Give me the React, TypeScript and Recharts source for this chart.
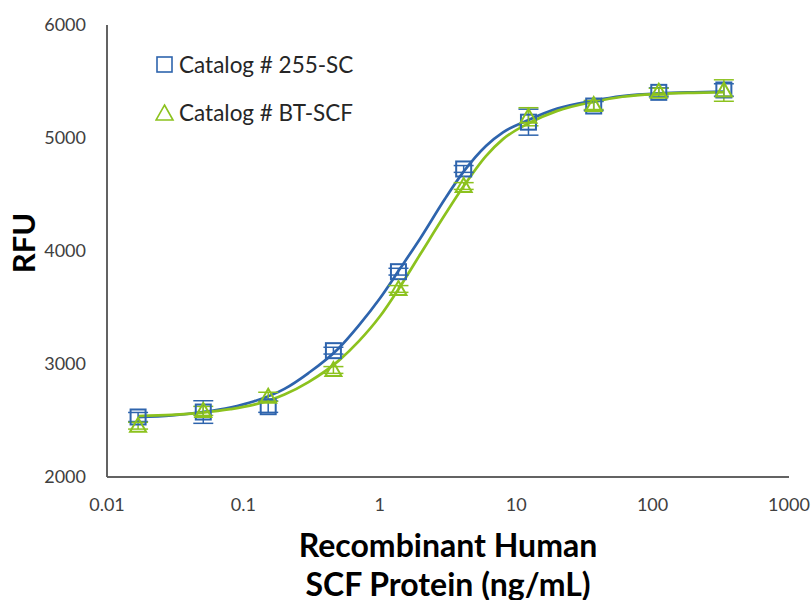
import React from 'react';
import {
    ComposedChart,
    Line,
    Scatter,
    ErrorBar,
    XAxis,
    YAxis,
    ReferenceLine,
} from 'recharts';

// concentrations (ng/mL), 3-fold dilution series
const concentration = [0.0169, 0.0508, 0.152, 0.457, 1.37, 4.12, 12.3, 37, 111, 333];

// measured RFU (mean) and error
const rfu255SC = [2531, 2575, 2622, 3118, 3817, 4726, 5140, 5283, 5404, 5425];
const err255SC = [40, 100, 50, 30, 30, 30, 115, 40, 40, 55];
const rfuBTSCF = [2454, 2585, 2710, 2947, 3664, 4575, 5188, 5292, 5410, 5420];
const errBTSCF = [30, 40, 40, 30, 30, 30, 80, 40, 30, 95];

// fitted curves
const fitX = [0.0169, 0.03, 0.05, 0.08, 0.12, 0.2, 0.3, 0.5, 0.7, 1, 1.4, 2, 3, 4.1, 6, 8, 12.3, 20, 37, 60, 111, 200, 333];
const fit255SC = [2530, 2545, 2575, 2615, 2670, 2780, 2920, 3140, 3340, 3580, 3840, 4120, 4460, 4700, 4930, 5050, 5160, 5260, 5330, 5370, 5395, 5405, 5410];
const fitBTSCF = [2540, 2550, 2570, 2600, 2640, 2730, 2840, 3030, 3200, 3420, 3680, 3980, 4320, 4570, 4840, 4990, 5130, 5240, 5320, 5365, 5390, 5400, 5405];

const xTicks = [0.01, 0.1, 1, 10, 100, 1000];
const yTicks = [2000, 3000, 4000, 5000, 6000];

const BLUE = '#2E64AD';
const GREEN = '#8CC21E';
const AXIS = '#595959';
const FONT = 'Lato, "Open Sans", sans-serif';

const points255 = concentration.map((x, i) => ({ x, y: rfu255SC[i], err: err255SC[i] }));
const pointsBT = concentration.map((x, i) => ({ x, y: rfuBTSCF[i], err: errBTSCF[i] }));
const curve255 = fitX.map((x, i) => ({ x, y: fit255SC[i] }));
const curveBT = fitX.map((x, i) => ({ x, y: fitBTSCF[i] }));

const Square = (props: any) => {
    const { cx, cy } = props;
    if (cx == null || cy == null) return null;
    return <rect x={cx - 7.5} y={cy - 7.5} width={15} height={15} fill="none" stroke={BLUE} strokeWidth={2} />;
};

const Triangle = (props: any) => {
    const { cx, cy } = props;
    if (cx == null || cy == null) return null;
    return (
        <polygon
            points={`${cx},${cy - 8} ${cx + 8},${cy + 6} ${cx - 8},${cy + 6}`}
            fill="none"
            stroke={GREEN}
            strokeWidth={2}
        />
    );
};

const fmtX = (v: number) => String(v);

const LegendBox = () => (
    <svg width={300} height={90} style={{ position: 'absolute', left: 155, top: 53 }}>
        <rect x={2} y={4} width={15} height={15} fill="none" stroke={BLUE} strokeWidth={1.6} />
        <text x={24} y={20} fontSize={22.5} fill="#262626" fontFamily={FONT}>Catalog # 255-SC</text>
        <polygon points="9.5,52 18,67 1,67" fill="none" stroke={GREEN} strokeWidth={1.6} />
        <text x={24} y={68} fontSize={22.5} fill="#262626" fontFamily={FONT}>Catalog # BT-SCF</text>
    </svg>
);

const XTitle = (props: any) => {
    const { viewBox } = props;
    const cx = viewBox.x + viewBox.width / 2;
    return (
        <text textAnchor="middle" fontSize={32} fontWeight="bold" fill="#000" fontFamily={FONT}>
            <tspan x={cx} y={557}>Recombinant Human</tspan>
            <tspan x={cx} y={596}>SCF Protein (ng/mL)</tspan>
        </text>
    );
};

const YTitle = () => (
    <text
        x={35}
        y={243}
        transform="rotate(-90, 35, 243)"
        textAnchor="middle"
        fontSize={31}
        fontWeight="bold"
        fill="#000"
        fontFamily={FONT}
    >
        RFU
    </text>
);

export default function App() {
    return (
        <div style={{ position: 'absolute', left: 0, top: 0, width: 812, height: 600, background: '#fff' }}>
            <ComposedChart width={812} height={600} margin={{ top: 25, right: 23, bottom: 0, left: 0 }}>
                <XAxis
                    dataKey="x"
                    type="number"
                    scale="log"
                    domain={[0.01, 1000]}
                    ticks={xTicks}
                    tickFormatter={fmtX}
                    allowDataOverflow
                    height={123}
                    tickLine={false}
                    tickMargin={15}
                    axisLine={{ stroke: AXIS, strokeWidth: 1.5 }}
                    tick={{ fontSize: 18, fill: '#404040', fontFamily: FONT }}
                    label={<XTitle />}
                />
                <YAxis
                    type="number"
                    domain={[2000, 6000]}
                    ticks={yTicks}
                    width={107}
                    tickLine={false}
                    tickMargin={15}
                    axisLine={{ stroke: AXIS, strokeWidth: 1.5 }}
                    tick={{ fontSize: 18, fill: '#404040', fontFamily: FONT }}
                    label={<YTitle />}
                />
                <ReferenceLine x={0.01} stroke={AXIS} strokeWidth={1.5} />
                <ReferenceLine y={2000} stroke={AXIS} strokeWidth={1.5} />
                <Line data={curve255} dataKey="y" type="monotone" stroke={BLUE} strokeWidth={2.7} dot={false} activeDot={false} isAnimationActive={false} />
                <Line data={curveBT} dataKey="y" type="monotone" stroke={GREEN} strokeWidth={2.7} dot={false} activeDot={false} isAnimationActive={false} />
                <Scatter data={points255} dataKey="y" shape={<Square />} isAnimationActive={false}>
                    <ErrorBar dataKey="err" direction="y" width={10} stroke={BLUE} strokeWidth={1.5} />
                </Scatter>
                <Scatter data={pointsBT} dataKey="y" shape={<Triangle />} isAnimationActive={false}>
                    <ErrorBar dataKey="err" direction="y" width={10} stroke={GREEN} strokeWidth={1.5} />
                </Scatter>
            </ComposedChart>
            <LegendBox />
        </div>
    );
}
